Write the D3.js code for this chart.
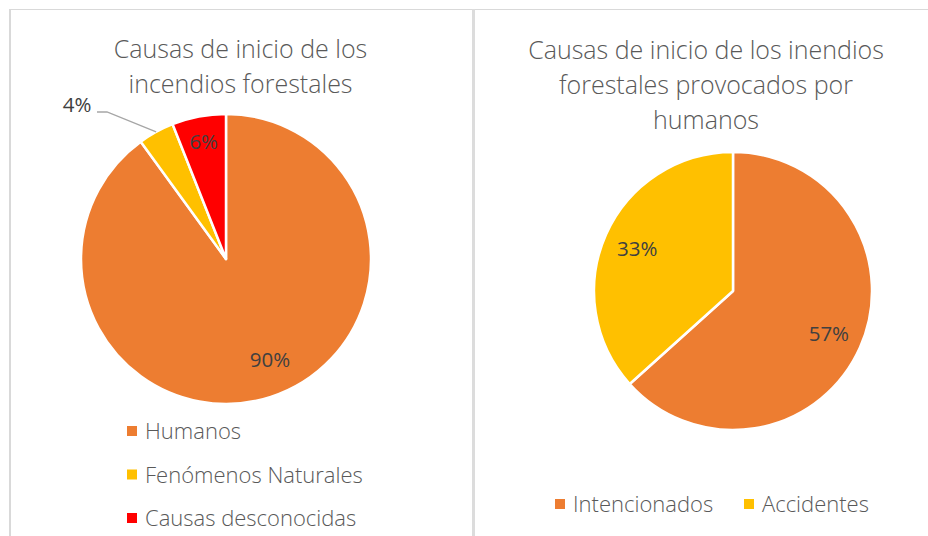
<!DOCTYPE html>
<html><head><meta charset="utf-8">
<script src="https://cdn.jsdelivr.net/npm/d3@7"></script>
<style>
html,body{margin:0;padding:0;background:#fff;}
svg{display:block;}
text{font-family:"Open Sans","Noto Sans",sans-serif;}
</style></head>
<body>
<svg id="c" width="928" height="536"></svg>
<script>
// ---- Data ----
const title1 = ["Causas de inicio de los", "incendios forestales"];
const categories1 = ["Humanos", "Fenómenos Naturales", "Causas desconocidas"];
const values1 = [90, 4, 6];
const colors1 = ["#ED7D31", "#FFC000", "#FF0000"];

const title2 = ["Causas de inicio de los inendios", "forestales provocados por", "humanos"];
const categories2 = ["Intencionados", "Accidentes"];
const values2 = [57, 33];
const colors2 = ["#ED7D31", "#FFC000"];

const svg = d3.select("#c");

// panel borders
svg.append("line").attr("x1", 9).attr("x2", 928).attr("y1", 9.5).attr("y2", 9.5)
  .attr("stroke", "#d9d9d9").attr("stroke-width", 1);
svg.append("line").attr("x1", 10).attr("x2", 10).attr("y1", 9).attr("y2", 536)
  .attr("stroke", "#d9d9d9").attr("stroke-width", 2);
svg.append("line").attr("x1", 473.5).attr("x2", 473.5).attr("y1", 9).attr("y2", 536)
  .attr("stroke", "#dcdcdc").attr("stroke-width", 3);

function drawTitle(lines, cx, y0) {
  const t = svg.append("text").attr("text-anchor", "middle")
    .attr("fill", "#595959").attr("font-size", 25).attr("font-weight", 300);
  lines.forEach((l, i) => t.append("tspan").attr("x", cx).attr("y", y0 + i * 35).text(l));
}

function drawPie(values, colors, cx, cy, r) {
  const pie = d3.pie().sort(null).value(d => d);
  const arcs = pie(values);
  const arc = d3.arc().innerRadius(0).outerRadius(r);
  const g = svg.append("g").attr("transform", `translate(${cx},${cy})`);
  g.selectAll("path").data(arcs).join("path")
    .attr("d", arc).attr("fill", (d, i) => colors[i])
    .attr("stroke", "#fff").attr("stroke-width", 2.5).attr("stroke-linejoin", "round");
  return {g, arcs, arc};
}

function label(g, x, y, txt) {
  g.append("text").attr("x", x).attr("y", y).attr("text-anchor", "middle")
    .attr("dy", "0.35em").attr("fill", "#404040").attr("font-size", 20.5)
    .text(txt);
}

// ---- Chart 1 ----
drawTitle(title1, 240.5, 58);
const r1 = 145, c1 = [226, 259];
const p1 = drawPie(values1, colors1, c1[0], c1[1], r1);
{
  const ring = f => d3.arc().innerRadius(r1 * f).outerRadius(r1 * f);
  const [x0, y0] = ring(0.76).centroid(p1.arcs[0]);
  label(p1.g, x0 + 10, y0 - 4, values1[0] + "%");
  const [x2, y2] = ring(0.82).centroid(p1.arcs[2]);
  label(p1.g, x2, y2, values1[2] + "%");
  // outside label with leader for small slice
  const [ex, ey] = ring(1.0).centroid(p1.arcs[1]);
  const lx = -119, ly = -147;
  p1.g.append("polyline")
    .attr("points", [[ex, ey], [lx, ly], [lx - 10, ly]].map(p => p.join(",")).join(" "))
    .attr("fill", "none").attr("stroke", "#a6a6a6").attr("stroke-width", 1.3);
  label(p1.g, lx - 30, ly - 7, values1[1] + "%");
}
// legend 1
{
  const lg = svg.append("g");
  categories1.forEach((c, i) => {
    const y = 431 + i * 43.5;
    lg.append("rect").attr("x", 127).attr("y", y - 5).attr("width", 10).attr("height", 10).attr("fill", colors1[i]);
    lg.append("text").attr("x", 145).attr("y", y + 8).attr("fill", "#595959")
      .attr("font-size", 22).attr("font-weight", 300).text(c);
  });
}

// ---- Chart 2 ----
drawTitle(title2, 706, 59);
const r2 = 139, c2 = [733, 291];
const p2 = drawPie(values2, colors2, c2[0], c2[1], r2);
{
  const ring = d3.arc().innerRadius(r2 * 0.755).outerRadius(r2 * 0.755);
  p2.arcs.forEach((a, i) => {
    const [x, y] = ring.centroid(a);
    label(p2.g, x, y, values2[i] + "%");
  });
}
// legend 2
{
  const lg = svg.append("g");
  const xs = [555, 744];
  categories2.forEach((c, i) => {
    lg.append("rect").attr("x", xs[i]).attr("y", 499).attr("width", 10).attr("height", 10).attr("fill", colors2[i]);
    lg.append("text").attr("x", xs[i] + 18).attr("y", 512).attr("fill", "#595959")
      .attr("font-size", 22).attr("font-weight", 300).text(c);
  });
}
</script>
</body></html>
